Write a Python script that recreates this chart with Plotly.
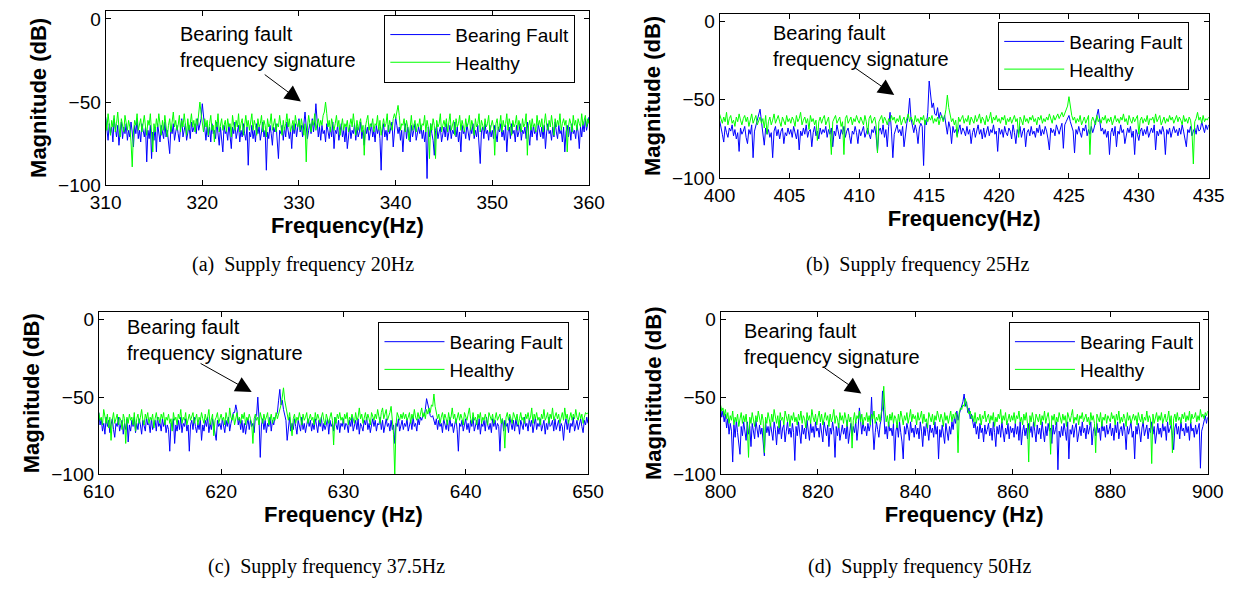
import numpy as np
import plotly.graph_objects as go

W, H = 1252, 593

# ---------------- data (dB magnitude spectra) ----------------
# (a) supply 20 Hz, 310-360 Hz, 0.125 Hz bins
a_range = (310, 360)
a_fault = [
 -59,-68,-73,-63,-69,-65,-74,-60,-67,-71,-64,-76,-68,-62,-72,-65,-69,-63,-73,-67,
 -71,-62,-68,-77,-64,-69,-60,-72,-67,-74,-63,-68,-71,-65,-86,-67,-72,-64,-84,-68,
 -73,-65,-80,-63,-69,-74,-64,-68,-72,-62,-71,-67,-76,-81,-65,-69,-63,-73,-68,-64,
 -69,-74,-65,-60,-71,-67,-63,-73,-68,-64,-72,-62,-68,-65,-63,-69,-60,-67,-62,-60,
 -51,-59,-68,-73,-64,-71,-65,-74,-63,-69,-67,-72,-62,-68,-76,-65,-71,-80,-64,-69,
 -67,-73,-63,-71,-78,-65,-69,-62,-72,-68,-64,-74,-67,-71,-63,-69,-73,-65,-88,-68,
 -71,-64,-72,-67,-74,-63,-69,-65,-73,-68,-62,-71,-67,-91,-68,-72,-64,-69,-76,-65,
 -68,-63,-72,-84,-67,-69,-64,-73,-65,-71,-62,-68,-72,-67,-78,-64,-69,-63,-71,-65,
 -60,-68,-64,-71,-62,-56,-65,-72,-67,-63,-69,-60,-68,-62,-51,-63,-71,-65,-73,-64,
 -69,-67,-74,-63,-68,-72,-65,-71,-62,-78,-67,-69,-64,-73,-68,-63,-71,-67,-74,-65,
 -78,-68,-64,-72,-67,-69,-63,-73,-65,-71,-68,-62,-72,-67,-76,-64,-69,-65,-73,-68,
 -63,-71,-67,-74,-64,-69,-65,-72,-91,-68,-63,-71,-67,-73,-64,-69,-65,-62,-77,-68,
 -59,-64,-69,-65,-73,-67,-80,-68,-63,-72,-65,-69,-74,-64,-71,-67,-63,-73,-68,-65,
 -69,-64,-72,-67,-74,-68,-96,-65,-71,-63,-69,-73,-82,-67,-64,-72,-68,-65,-74,-69,
 -65,-71,-63,-73,-68,-64,-72,-67,-69,-62,-71,-65,-74,-68,-80,-64,-69,-67,-72,-63,
 -68,-73,-65,-69,-63,-72,-67,-71,-64,-74,-87,-68,-65,-72,-63,-69,-67,-73,-64,-71,
 -67,-72,-64,-69,-74,-65,-68,-63,-71,-67,-73,-64,-80,-68,-65,-72,-63,-69,-67,-74,
 -64,-71,-68,-63,-73,-67,-69,-65,-72,-62,-68,-76,-65,-71,-64,-69,-67,-73,-63,-68,
 -71,-65,-72,-64,-78,-68,-63,-69,-67,-73,-65,-71,-62,-68,-72,-64,-69,-67,-74,-65,
 -80,-68,-64,-71,-65,-73,-63,-69,-67,-72,-64,-68,-78,-65,-71,-63,-68,-60,-67,-63,
 -59]
a_healthy = [
 -60,-67,-57,-64,-70,-61,-65,-58,-68,-63,-56,-65,-71,-60,-64,-68,-58,-63,-67,-61,
 -65,-74,-89,-68,-61,-64,-57,-67,-63,-60,-68,-64,-58,-65,-70,-61,-64,-57,-67,-80,
 -63,-68,-60,-65,-57,-64,-70,-61,-67,-58,-63,-71,-64,-60,-68,-63,-56,-65,-61,-67,
 -64,-58,-68,-61,-65,-57,-63,-70,-60,-67,-63,-57,-65,-61,-68,-60,-64,-56,-50,-57,
 -64,-68,-60,-65,-61,-70,-63,-58,-67,-64,-74,-61,-65,-57,-68,-63,-60,-67,-64,-61,
 -68,-60,-65,-63,-71,-58,-64,-67,-61,-65,-57,-68,-63,-60,-70,-64,-58,-65,-61,-67,
 -63,-57,-67,-61,-64,-70,-60,-65,-63,-58,-68,-61,-64,-71,-60,-65,-63,-57,-67,-64,
 -60,-68,-63,-65,-58,-64,-70,-61,-67,-63,-57,-65,-60,-68,-64,-61,-67,-58,-63,-65,
 -61,-67,-60,-64,-70,-63,-86,-65,-58,-63,-68,-61,-64,-57,-67,-63,-60,-65,-61,-64,
 -58,-56,-50,-57,-65,-61,-68,-60,-64,-67,-63,-58,-65,-61,-70,-64,-60,-67,-63,-65,
 -61,-68,-63,-60,-65,-57,-64,-70,-61,-67,-63,-60,-68,-64,-82,-65,-61,-58,-67,-63,
 -65,-60,-68,-63,-64,-58,-67,-61,-70,-64,-60,-65,-63,-57,-68,-61,-64,-67,-60,-57,
 -60,-56,-52,-58,-67,-63,-64,-60,-68,-61,-65,-73,-63,-58,-67,-64,-61,-68,-63,-65,
 -60,-67,-63,-64,-58,-68,-61,-65,-84,-63,-67,-60,-64,-84,-61,-65,-63,-57,-68,-64,
 -61,-65,-60,-68,-63,-57,-67,-64,-61,-70,-60,-65,-63,-58,-67,-61,-64,-68,-60,-65,
 -63,-58,-67,-61,-64,-70,-60,-65,-63,-57,-68,-61,-64,-67,-60,-65,-63,-58,-68,-64,
 -61,-65,-82,-63,-60,-67,-64,-58,-68,-61,-65,-63,-57,-67,-60,-64,-70,-61,-65,-63,
 -58,-67,-61,-64,-68,-60,-65,-63,-57,-82,-64,-61,-67,-60,-65,-63,-68,-58,-64,-61,
 -65,-60,-68,-63,-57,-64,-67,-61,-65,-58,-63,-70,-60,-65,-61,-64,-57,-67,-63,-60,
 -64,-61,-80,-65,-60,-63,-68,-58,-64,-61,-67,-60,-63,-65,-57,-64,-61,-58,-65,-60,
 -63]

# (b) supply 25 Hz, 400-435 Hz, 0.1 Hz bins
b_range = (400, 435)
b_fault = [
 -63,-69,-72,-77,-67,-71,-74,-68,-70,-66,-73,-69,-75,-71,-83,-68,-72,-70,-67,-74,-78,-69,-72,-66,-87,
 -70,-66,-62,-60,-56,-64,-70,-79,-68,-72,-69,-74,-71,-87,-70,-67,-73,-69,-75,-70,-68,-78,-71,-73,-68,
 -72,-69,-74,-67,-71,-75,-69,-82,-70,-73,-68,-72,-66,-74,-70,-69,-80,-71,-67,-73,-70,-75,-68,-72,-69,
 -71,-67,-74,-69,-72,-68,-80,-70,-73,-66,-71,-75,-69,-72,-67,-74,-70,-68,-73,-78,-70,-72,-67,-71,-78,
 -69,-73,-70,-67,-74,-71,-68,-72,-75,-69,-71,-67,-73,-83,-70,-68,-72,-66,-74,-69,-80,-67,-58,-70,-87,
 -72,-68,-66,-71,-69,-73,-67,-80,-70,-65,-60,-49,-62,-68,-71,-66,-70,-78,-68,-65,-67,-92,-63,-66,-58,
 -38,-48,-55,-52,-59,-60,-55,-62,-58,-61,-63,-60,-66,-72,-64,-68,-78,-67,-71,-69,-73,-70,-66,-72,-68,
 -70,-73,-67,-72,-69,-78,-71,-68,-74,-70,-66,-72,-69,-75,-68,-74,-70,-67,-73,-69,-71,-66,-72,-70,-83,
 -68,-72,-69,-74,-67,-71,-73,-68,-70,-75,-66,-71,-78,-69,-72,-67,-74,-70,-68,-80,-71,-69,-73,-67,-72,
 -70,-74,-68,-71,-66,-73,-69,-72,-67,-70,-75,-82,-68,-71,-69,-73,-66,-70,-72,-68,-65,-81,-66,-64,-62,
 -60,-64,-68,-70,-84,-69,-72,-67,-71,-74,-68,-70,-66,-73,-69,-72,-67,-71,-68,-64,-62,-56,-63,-70,-68,
 -72,-69,-74,-70,-85,-71,-68,-73,-67,-80,-70,-72,-66,-71,-69,-78,-73,-68,-71,-67,-74,-70,-85,-69,-72,
 -76,-70,-68,-73,-69,-72,-67,-74,-70,-68,-71,-66,-82,-70,-73,-69,-72,-67,-71,-85,-69,-72,-68,-74,-70,
 -67,-71,-69,-73,-68,-72,-66,-70,-74,-80,-69,-71,-67,-73,-70,-68,-72,-66,-70,-69,-64,-68,-71,-66,-69,
 -66]
b_healthy = [
 -59,-62,-65,-61,-64,-58,-66,-62,-60,-65,-63,-67,-61,-64,-59,-63,-66,-62,-60,-64,-61,-67,-63,-59,-65,
 -62,-60,-66,-63,-61,-65,-62,-68,-60,-72,-64,-61,-66,-63,-59,-65,-62,-60,-64,-67,-61,-63,-66,-60,-64,
 -62,-65,-61,-63,-67,-60,-64,-62,-58,-66,-63,-61,-65,-62,-69,-60,-64,-62,-66,-63,-76,-64,-61,-65,-62,
 -60,-66,-63,-61,-70,-85,-64,-62,-60,-65,-63,-61,-67,-64,-85,-62,-60,-65,-63,-61,-66,-62,-64,-60,-63,
 -65,-61,-63,-66,-60,-64,-72,-62,-60,-65,-63,-61,-66,-84,-64,-62,-60,-65,-61,-63,-66,-62,-64,-60,-63,
 -61,-65,-62,-64,-60,-66,-63,-61,-65,-62,-59,-64,-61,-63,-66,-60,-64,-62,-65,-61,-63,-60,-66,-62,-64,
 -61,-63,-60,-65,-62,-64,-61,-66,-62,-60,-64,-61,-56,-47,-55,-60,-64,-62,-66,-63,-74,-61,-64,-62,-60,
 -65,-62,-64,-60,-66,-61,-63,-65,-60,-64,-62,-59,-65,-61,-63,-66,-60,-64,-62,-58,-65,-61,-63,-60,-64,
 -62,-65,-61,-63,-60,-66,-62,-64,-61,-65,-63,-60,-64,-62,-74,-61,-63,-66,-60,-64,-62,-65,-61,-63,-60,
 -64,-62,-66,-61,-63,-60,-65,-62,-64,-61,-63,-59,-62,-65,-60,-63,-61,-59,-62,-60,-58,-61,-59,-56,-54,
 -48,-55,-60,-63,-61,-65,-62,-64,-60,-66,-63,-61,-65,-62,-60,-85,-64,-61,-63,-66,-60,-64,-62,-65,-61,
 -63,-60,-65,-62,-64,-61,-66,-63,-60,-64,-62,-65,-61,-63,-59,-64,-62,-66,-60,-63,-65,-61,-64,-62,-60,
 -72,-63,-61,-65,-62,-64,-60,-66,-62,-63,-61,-65,-59,-64,-62,-60,-66,-63,-61,-65,-62,-64,-60,-63,-61,
 -65,-62,-60,-64,-61,-63,-66,-60,-64,-62,-65,-61,-63,-70,-91,-64,-62,-58,-63,-61,-65,-60,-64,-62,-63,
 -61]

# (c) supply 37.5 Hz, 610-650 Hz, 0.1 Hz bins
c_range = (610, 650)
c_fault = [
 -60,-68,-64,-72,-67,-74,-63,-69,-65,-73,-68,-64,-71,-76,-67,-69,-63,-72,-68,-65,-74,-67,-71,-64,-79,
 -68,-72,-65,-69,-63,-73,-67,-71,-64,-68,-74,-65,-69,-72,-63,-68,-67,-73,-64,-71,-68,-65,-72,-63,-69,
 -67,-72,-64,-69,-65,-73,-68,-71,-85,-67,-69,-64,-80,-68,-72,-65,-71,-63,-73,-67,-69,-64,-72,-68,-85,
 -68,-65,-71,-63,-69,-73,-67,-71,-64,-78,-68,-72,-65,-69,-63,-73,-67,-71,-64,-68,-72,-78,-65,-69,-67,
 -71,-64,-68,-73,-65,-69,-63,-72,-67,-64,-60,-60,-55,-59,-68,-64,-71,-65,-73,-67,-74,-68,-64,-71,-65,
 -69,-67,-73,-63,-62,-50,-64,-89,-68,-64,-71,-65,-73,-67,-69,-63,-72,-65,-68,-63,-62,-60,-52,-45,-55,
 -52,-58,-62,-65,-78,-68,-63,-72,-67,-71,-64,-69,-74,-65,-68,-72,-63,-71,-67,-73,-68,-64,-69,-65,-72,
 -67,-71,-64,-68,-73,-65,-69,-63,-72,-67,-71,-68,-64,-74,-65,-69,-67,-72,-63,-68,-71,-65,-73,-67,-69,
 -64,-71,-67,-68,-73,-65,-69,-63,-72,-68,-65,-71,-64,-74,-67,-69,-72,-65,-68,-63,-71,-67,-73,-68,-64,
 -69,-65,-72,-67,-68,-63,-71,-65,-73,-68,-64,-69,-67,-72,-65,-71,-68,-80,-67,-69,-64,-72,-68,-65,-71,
 -67,-69,-64,-72,-68,-65,-71,-63,-69,-67,-72,-64,-68,-63,-65,-62,-62,-58,-51,-56,-58,-62,-63,-62,-65,
 -68,-64,-71,-65,-69,-67,-73,-64,-68,-71,-65,-72,-63,-69,-67,-73,-68,-64,-71,-85,-67,-69,-65,-72,-68,
 -64,-71,-67,-73,-65,-69,-63,-72,-68,-65,-71,-64,-74,-67,-69,-65,-72,-63,-68,-71,-67,-73,-64,-69,-65,
 -71,-67,-69,-85,-68,-64,-72,-65,-69,-67,-73,-63,-68,-71,-65,-72,-64,-69,-67,-74,-65,-68,-71,-63,-69,
 -67,-72,-64,-69,-65,-73,-68,-63,-71,-67,-69,-64,-72,-68,-65,-74,-67,-71,-63,-69,-68,-65,-72,-64,-71,
 -68,-65,-72,-67,-69,-78,-68,-64,-71,-65,-73,-67,-69,-63,-72,-68,-65,-71,-67,-64,-69,-73,-65,-68,-63,
 -67]
c_healthy = [
 -60,-65,-63,-68,-58,-64,-67,-61,-70,-63,-78,-65,-60,-67,-64,-61,-68,-63,-65,-71,-61,-64,-80,-63,-67,
 -61,-65,-63,-68,-60,-72,-64,-61,-67,-63,-58,-65,-68,-61,-64,-60,-67,-63,-65,-61,-70,-64,-60,-65,-63,
 -67,-61,-64,-60,-68,-63,-65,-61,-67,-64,-72,-60,-65,-63,-68,-61,-64,-58,-67,-63,-65,-60,-68,-64,-61,
 -65,-63,-60,-67,-64,-61,-68,-63,-65,-60,-64,-67,-61,-65,-63,-58,-68,-64,-61,-75,-65,-63,-60,-67,-64,
 -61,-65,-63,-68,-60,-64,-67,-57,-63,-65,-61,-68,-64,-60,-65,-63,-67,-61,-64,-60,-68,-63,-65,-61,-64,
 -67,-80,-64,-61,-65,-63,-68,-60,-64,-67,-61,-65,-63,-60,-68,-64,-61,-67,-63,-65,-60,-64,-61,-57,-55,
 -50,-44,-52,-57,-63,-65,-60,-68,-75,-64,-61,-67,-63,-65,-60,-64,-68,-61,-65,-63,-60,-67,-64,-61,-65,
 -63,-68,-60,-65,-61,-64,-67,-63,-60,-65,-68,-61,-64,-67,-63,-60,-65,-81,-63,-67,-61,-64,-60,-65,-63,
 -67,-61,-64,-60,-68,-63,-65,-61,-64,-67,-60,-65,-63,-57,-64,-61,-67,-63,-60,-65,-61,-64,-68,-60,-63,
 -65,-61,-64,-58,-63,-67,-60,-57,-64,-61,-58,-65,-63,-60,-56,-64,-74,-101,-68,-60,-63,-65,-61,-64,-60,
 -64,-61,-65,-63,-60,-67,-61,-64,-58,-63,-65,-60,-64,-61,-57,-63,-60,-64,-58,-61,-57,-60,-55,-56,-48,
 -56,-60,-64,-61,-67,-63,-60,-65,-61,-64,-68,-60,-65,-63,-57,-64,-61,-67,-63,-60,-65,-61,-64,-68,-60,
 -63,-65,-61,-57,-64,-67,-60,-65,-63,-68,-61,-64,-60,-67,-63,-65,-61,-64,-68,-60,-63,-65,-61,-67,-64,
 -60,-65,-63,-61,-67,-64,-68,-83,-63,-60,-65,-61,-64,-67,-60,-63,-65,-61,-68,-64,-60,-65,-63,-67,-61,
 -64,-60,-65,-63,-57,-67,-61,-64,-60,-65,-63,-68,-61,-64,-58,-65,-63,-60,-67,-61,-64,-57,-65,-63,-60,
 -64,-61,-67,-63,-60,-65,-57,-64,-61,-67,-63,-60,-65,-61,-64,-58,-63,-65,-60,-64,-61,-67,-63,-60,-61,
 -60]

# (d) supply 50 Hz, 800-900 Hz, 0.25 Hz bins
d_range = (800, 900)
d_fault = [
 -56,-63,-59,-66,-61,-70,-64,-74,-67,-72,-92,-68,-76,-65,-73,-80,-87,-69,-75,-66,
 -72,-78,-66,-74,-69,-82,-67,-73,-77,-65,-71,-76,-68,-74,-70,-79,-88,-66,-73,-69,
 -75,-67,-72,-78,-66,-71,-81,-69,-74,-65,-77,-70,-68,-79,-72,-66,-74,-70,-76,-67,
 -73,-91,-69,-75,-66,-72,-80,-68,-74,-70,-77,-65,-71,-78,-67,-73,-69,-76,-66,-72,
 -70,-76,-67,-73,-79,-66,-71,-75,-68,-82,-70,-74,-66,-72,-89,-69,-75,-67,-78,-71,
 -68,-74,-70,-77,-65,-80,-72,-67,-75,-69,-73,-66,-78,-70,-57,-68,-74,-66,-72,-69,
 -75,-67,-72,-68,-50,-70,-84,-73,-66,-71,-76,-68,-64,-46,-60,-74,-69,-77,-66,-72,
 -70,-75,-67,-91,-72,-68,-76,-66,-73,-79,-90,-69,-74,-67,-71,-78,-66,-73,-70,-76,
 -68,-74,-70,-77,-66,-72,-82,-69,-75,-67,-71,-78,-68,-73,-70,-76,-66,-74,-69,-90,
 -71,-76,-68,-73,-80,-67,-72,-78,-69,-74,-66,-71,-63,-67,-59,-65,-61,-58,-55,-53,
 -48,-56,-53,-60,-57,-64,-61,-67,-70,-66,-74,-69,-77,-67,-73,-70,-79,-68,-74,-71,
 -67,-75,-70,-78,-66,-73,-82,-69,-74,-68,-76,-66,-72,-79,-70,-74,-67,-77,-69,-73,
 -70,-76,-67,-74,-69,-78,-66,-81,-72,-68,-75,-70,-77,-67,-73,-69,-76,-66,-72,-79,
 -68,-74,-70,-77,-66,-73,-79,-69,-75,-67,-72,-70,-80,-68,-74,-71,-66,-97,-72,-76,
 -69,-75,-67,-72,-78,-66,-90,-71,-74,-68,-76,-70,-67,-79,-72,-69,-75,-66,-73,-70,
 -77,-68,-74,-70,-66,-81,-72,-69,-75,-67,-73,-70,-78,-66,-72,-69,-76,-68,-74,-71,
 -67,-75,-70,-78,-68,-73,-66,-77,-71,-69,-75,-67,-72,-84,-69,-74,-70,-66,-76,-72,
 -90,-69,-74,-67,-72,-79,-70,-66,-75,-71,-68,-77,-70,-73,-66,-74,-69,-80,-71,-67,
 -74,-70,-76,-67,-72,-69,-78,-66,-73,-71,-68,-75,-84,-70,-67,-74,-69,-77,-66,-72,
 -70,-75,-67,-73,-69,-78,-66,-72,-70,-76,-68,-74,-71,-67,-96,-72,-69,-65,-62,-67,
 -63]
d_healthy = [
 -55,-59,-57,-62,-58,-64,-60,-67,-62,-65,-59,-68,-63,-66,-61,-69,-64,-60,-67,-62,
 -66,-61,-70,-89,-63,-67,-60,-65,-69,-62,-66,-59,-64,-68,-61,-65,-86,-63,-67,-60,
 -64,-69,-61,-66,-58,-63,-67,-62,-70,-60,-65,-63,-68,-59,-64,-66,-61,-69,-62,-65,
 -60,-66,-63,-68,-61,-65,-59,-67,-62,-64,-70,-60,-65,-62,-67,-58,-63,-66,-61,-68,
 -63,-59,-66,-61,-68,-64,-60,-65,-62,-69,-61,-66,-63,-58,-67,-62,-64,-70,-60,-65,
 -62,-67,-60,-64,-69,-61,-66,-63,-83,-65,-60,-67,-62,-64,-59,-66,-61,-68,-63,-65,
 -60,-66,-62,-68,-61,-64,-59,-67,-63,-65,-61,-66,-60,-58,-43,-58,-66,-62,-69,-61,
 -65,-60,-67,-62,-64,-70,-61,-66,-59,-63,-68,-62,-65,-60,-67,-63,-58,-66,-61,-64,
 -62,-68,-60,-65,-63,-59,-67,-61,-66,-64,-70,-60,-63,-66,-61,-68,-62,-65,-59,-64,
 -66,-61,-64,-69,-60,-65,-62,-67,-63,-59,-66,-61,-64,-60,-62,-86,-60,-57,-58,-55,
 -56,-51,-55,-58,-61,-59,-64,-62,-66,-60,-67,-63,-65,-61,-68,-62,-64,-59,-66,-63,
 -61,-67,-62,-65,-60,-69,-63,-66,-61,-64,-58,-67,-62,-65,-60,-68,-64,-61,-66,-62,
 -65,-60,-67,-62,-64,-59,-66,-63,-68,-61,-65,-60,-67,-92,-62,-66,-60,-64,-69,-61,
 -64,-66,-61,-68,-62,-65,-59,-67,-63,-60,-66,-87,-62,-65,-61,-68,-63,-66,-60,-64,
 -67,-61,-65,-62,-69,-60,-64,-66,-62,-58,-67,-63,-65,-61,-68,-62,-64,-60,-66,-63,
 -61,-66,-63,-68,-60,-65,-62,-67,-86,-61,-64,-66,-60,-69,-63,-65,-61,-67,-62,-64,
 -66,-60,-64,-62,-68,-61,-65,-59,-67,-63,-66,-61,-64,-69,-60,-65,-62,-67,-63,-61,
 -65,-62,-68,-60,-64,-66,-61,-67,-63,-65,-59,-66,-62,-64,-93,-61,-67,-63,-60,-66,
 -62,-65,-60,-67,-63,-61,-66,-64,-59,-68,-62,-86,-64,-61,-66,-60,-65,-63,-67,-61,
 -64,-60,-66,-62,-65,-59,-67,-61,-64,-63,-60,-66,-62,-65,-58,-63,-61,-64,-60,-62,
 -59]

series_names = ["Bearing Fault", "Healthy"]
x_titles = ["Frequency(Hz)", "Frequency(Hz)", "Frequency (Hz)", "Frequency (Hz)"]
y_titles = ["Magnitude (dB)", "Magnitude (dB)", "Magnitude (dB)", "Magnititude (dB)"]
captions = ["(a)\u00a0\u00a0Supply frequency 20Hz", "(b)\u00a0\u00a0Supply frequency 25Hz",
            "(c)\u00a0\u00a0Supply frequency 37.5Hz", "(d)\u00a0\u00a0Supply frequency 50Hz"]
x_dticks = [10, 5, 10, 20]
y_ticks = [0, -50, -100]
y_range = [-100, 5]

BLUE = "#0000FF"
GREEN = "#00FF00"
SANS = "Liberation Sans, Arial, Helvetica, sans-serif"
SERIF = "Liberation Serif, Times New Roman, serif"

# layout geometry (pixels)
frames = [  # x0, x1, ytop, ybottom
    (92, 588, 8.8, 187.3),
    (722, 1224, 12, 180),
    (85, 587, 317, 483),
    (723, 1223, 317, 483),
]
legend_px = [(574, 13), (1204, 20), (568, 327), (1215, 327)]
caption_px = [(295, 268), (925, 268), (319, 577), (927, 577)]

panels = [
    (a_range, a_fault, a_healthy),
    (b_range, b_fault, b_healthy),
    (c_range, c_fault, c_healthy),
    (d_range, d_fault, d_healthy),
]
# annotation: text (x, y), arrow tail (x, y), arrow head (x, y) in data coords
notes = [
    ((317.5, -1), (326.3, -32.8), (330.2, -49.7)),
    ((403.7, 1), (409.6, -29), (412.5, -47)),
    ((612.1, 4), (618.2, -27.7), (622.5, -46.7)),
    ((804.4, 1), (821.0, -30.3), (828.9, -47.7)),
]

fig = go.Figure()
layout = dict(width=W, height=H, margin=dict(l=0, r=0, t=0, b=0),
              paper_bgcolor="white", plot_bgcolor="white", showlegend=True,
              annotations=[])

for i, ((f0, f1), fault, healthy) in enumerate(panels):
    k = "" if i == 0 else str(i + 1)
    xa, ya = "x" + k, "y" + k
    lg = "legend" + k
    for vals, name, col in ((fault, series_names[0], BLUE), (healthy, series_names[1], GREEN)):
        xs = np.linspace(f0, f1, len(vals))
        fig.add_trace(go.Scatter(x=xs, y=vals, mode="lines", name=name,
                                 line=dict(color=col, width=1), xaxis=xa, yaxis=ya,
                                 legend=lg))
    x0, x1, yt, yb = frames[i]
    axis_common = dict(showline=True, linecolor="black", linewidth=1, mirror="ticks",
                       ticks="inside", ticklen=5, tickcolor="black", showgrid=False,
                       zeroline=False, tickfont=dict(family=SANS, size=19, color="black"))
    layout["xaxis" + k] = dict(axis_common, domain=[x0 / W, x1 / W], anchor=ya,
                               range=[f0, f1], dtick=x_dticks[i], tick0=0,
                               title=dict(text="<b>" + x_titles[i] + "</b>", standoff=0,
                                          font=dict(family=SANS, size=22, color="black")))
    layout["yaxis" + k] = dict(axis_common, domain=[1 - yb / H, 1 - yt / H], anchor=xa,
                               range=y_range, tickvals=y_ticks,
                               title=dict(text="<b>" + y_titles[i] + "</b>", standoff=5,
                                          font=dict(family=SANS, size=22, color="black")))
    lx, ly = legend_px[i]
    layout[lg] = dict(x=lx / W, y=1 - ly / H, xanchor="right", yanchor="top",
                      xref="paper", yref="paper", bgcolor="white", bordercolor="black",
                      borderwidth=1, itemwidth=60, tracegroupgap=0,
                      font=dict(family=SANS, size=19, color="black"))
    (tx, ty), (ax_, ay_), (hx, hy) = notes[i]
    layout["annotations"].append(dict(
        x=tx, y=ty, xref=xa, yref=ya, text="Bearing fault<br>frequency signature",
        showarrow=False, xanchor="left", yanchor="top", align="left",
        font=dict(family=SANS, size=20, color="black")))
    layout["annotations"].append(dict(
        x=hx, y=hy, xref=xa, yref=ya, ax=ax_, ay=ay_, axref=xa, ayref=ya, text="",
        showarrow=True, arrowhead=2, arrowsize=3.2, arrowwidth=1, arrowcolor="black"))
    cx, cy = caption_px[i]
    layout["annotations"].append(dict(
        x=cx / W, y=1 - cy / H, xref="paper", yref="paper", text=captions[i],
        showarrow=False, xanchor="center", yanchor="middle",
        font=dict(family=SERIF, size=20, color="black")))

fig.update_layout(**layout)
fig.write_html("out.html", config={"displayModeBar": False},
               post_script="document.body.style.margin='0px';")
